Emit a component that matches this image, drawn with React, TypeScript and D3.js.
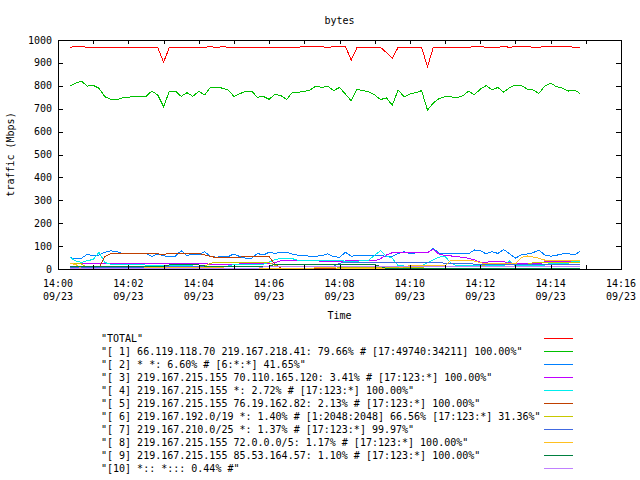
import React from 'react';
import * as d3 from 'd3';

// seconds after 14:00:00 on 09/23, one sample every 10 s
const sampleTimes = d3.range(88).map((i) => 20 + 10 * i);

const xTickSeconds = [0, 60, 120, 180, 240, 300, 360, 420, 480, 540, 600, 660, 720, 780, 840, 900, 960];
const xTickLabels = ['14:00', '14:02', '14:04', '14:06', '14:08', '14:10', '14:12', '14:14', '14:16'];
const xTickDate = '09/23';
const yTicks = [0, 100, 200, 300, 400, 500, 600, 700, 800, 900, 1000];

const seriesNames = [
  '"TOTAL"',
  '"[ 1] 66.119.118.70 219.167.218.41: 79.66% # [17:49740:34211] 100.00%"',
  '"[ 2] * *: 6.60% # [6:*:*] 41.65%"',
  '"[ 3] 219.167.215.155 70.110.165.120: 3.41% # [17:123:*] 100.00%"',
  '"[ 4] 219.167.215.155 *: 2.72% # [17:123:*] 100.00%"',
  '"[ 5] 219.167.215.155 76.19.162.82: 2.13% # [17:123:*] 100.00%"',
  '"[ 6] 219.167.192.0/19 *: 1.40% # [1:2048:2048] 66.56% [17:123:*] 31.36%"',
  '"[ 7] 219.167.210.0/25 *: 1.37% # [17:123:*] 99.97%"',
  '"[ 8] 219.167.215.155 72.0.0.0/5: 1.17% # [17:123:*] 100.00%"',
  '"[ 9] 219.167.215.155 85.53.164.57: 1.10% # [17:123:*] 100.00%"',
  '"[10] *:: *::: 0.44% #"',
];

const seriesColors = ['#ff0000', '#00c000', '#0080ff', '#c000ff', '#00eeee', '#c04000', '#c8c800', '#4169e1', '#ffc020', '#008040', '#c080ff'];

const total = [
  968, 972, 972, 968, 968, 968, 968, 968, 968, 968,
  968, 968, 968, 968, 968, 968, 903, 968, 968, 968,
  968, 968, 968, 968, 972, 966, 972, 968, 968, 968,
  968, 968, 968, 968, 968, 968, 968, 968, 968, 968,
  972, 972, 972, 972, 966, 972, 972, 972, 913, 968,
  968, 968, 968, 968, 945, 920, 968, 968, 968, 968,
  968, 883, 968, 968, 968, 968, 968, 968, 968, 972,
  972, 968, 968, 968, 972, 968, 972, 972, 972, 968,
  968, 972, 972, 972, 972, 972, 968, 968,
];
const s1 = [
  799, 811, 820, 799, 802, 789, 752, 741, 738, 748,
  750, 754, 754, 754, 777, 760, 709, 777, 777, 754,
  770, 754, 776, 760, 793, 793, 790, 782, 754, 765,
  777, 777, 750, 754, 741, 763, 757, 741, 772, 772,
  775, 782, 799, 792, 799, 779, 793, 764, 735, 785,
  779, 773, 760, 740, 747, 715, 782, 752, 764, 770,
  779, 694, 725, 745, 752, 752, 748, 756, 776, 761,
  785, 801, 782, 793, 772, 792, 803, 801, 786, 782,
  767, 799, 812, 796, 790, 777, 782, 767,
];
const s2 = [
  51, 44, 47, 64, 58, 61, 73, 79, 76, 68,
  68, 68, 68, 68, 54, 66, 58, 54, 56, 80,
  58, 66, 61, 76, 54, 52, 53, 54, 66, 54,
  47, 47, 68, 61, 73, 68, 73, 73, 64, 60,
  58, 56, 56, 58, 66, 54, 51, 73, 56, 58,
  60, 61, 61, 61, 54, 56, 68, 76, 68, 70,
  71, 71, 90, 68, 66, 66, 66, 66, 66, 83,
  80, 66, 76, 68, 85, 66, 48, 61, 66, 71,
  83, 61, 56, 60, 66, 68, 61, 76,
];
const s3 = [
  23, 23, 23, 23, 23, 23, 23, 23, 23, 25,
  25, 25, 25, 25, 25, 25, 25, 25, 25, 25,
  25, 25, 25, 24, 20, 20, 20, 20, 20, 22,
  22, 22, 22, 22, 22, 28, 36, 39, 39, 39,
  39, 39, 39, 31, 31, 31, 31, 35, 35, 35,
  35, 35, 35, 45, 61, 71, 71, 71, 71, 71,
  71, 72, 86, 64, 60, 57, 54, 51, 47, 40,
  29, 30, 32, 32, 32, 27, 24, 22, 22, 22,
  22, 31, 31, 31, 31, 31, 31, 31,
];
const s4 = [
  51, 35, 29, 36, 42, 73, 28, 21, 21, 21,
  21, 21, 21, 17, 17, 17, 17, 17, 17, 17,
  17, 13, 13, 13, 13, 13, 13, 13, 20, 20,
  20, 20, 20, 20, 30, 42, 45, 45, 45, 37,
  37, 37, 37, 39, 39, 39, 39, 33, 33, 33,
  39, 39, 60, 80, 56, 47, 14, 13, 13, 13,
  14, 27, 40, 52, 56, 25, 14, 14, 14, 14,
  14, 14, 14, 14, 14, 35, 13, 17, 17, 17,
  17, 17, 25, 25, 25, 25, 35, 32,
];
const s5 = [
  3, 3, 3, 3, 3, 3, 55, 68, 68, 68,
  68, 68, 68, 68, 68, 66, 64, 68, 68, 68,
  68, 68, 68, 62, 55, 50, 50, 49, 49, 52,
  54, 54, 54, 54, 54, 20, 3, 3, 3, 3,
  3, 3, 3, 3, 3, 3, 3, 3, 3, 3,
  3, 3, 3, 3, 3, 3, 3, 3, 3, 3,
  3, 3, 3, 3, 3, 3, 3, 3, 3, 3,
  3, 3, 3, 3, 3, 3, 3, 3, 3, 3,
  3, 3, 3, 3, 3, 3, 3, 3,
];
const s6 = [
  22, 22, 22, 8, 8, 8, 8, 8, 8, 8,
  8, 8, 8, 8, 8, 13, 13, 13, 13, 13,
  13, 12, 12, 12, 25, 29, 29, 29, 29, 29,
  29, 29, 29, 29, 29, 15, 10, 10, 10, 10,
  10, 10, 10, 10, 10, 10, 8, 8, 8, 8,
  8, 8, 8, 8, 8, 8, 8, 8, 8, 8,
  8, 10, 10, 10, 10, 10, 10, 10, 10, 10,
  10, 20, 20, 20, 20, 20, 20, 20, 20, 28,
  28, 28, 28, 28, 28, 28, 28, 28,
];
const s7 = [
  6, 6, 6, 6, 6, 6, 6, 6, 6, 6,
  6, 6, 6, 9, 9, 9, 9, 9, 9, 9,
  9, 9, 9, 9, 9, 9, 9, 9, 9, 9,
  9, 9, 9, 9, 9, 12, 12, 12, 12, 12,
  12, 12, 12, 12, 12, 12, 25, 29, 29, 29,
  29, 29, 29, 29, 29, 29, 29, 29, 29, 29,
  29, 29, 29, 29, 25, 25, 25, 25, 25, 21,
  21, 21, 21, 21, 21, 21, 21, 21, 21, 21,
  21, 21, 21, 21, 21, 21, 21, 21,
];
const s8 = [
  25, 20, 3, 3, 3, 3, 3, 3, 3, 3,
  3, 3, 3, 5, 5, 5, 5, 5, 5, 5,
  5, 5, 5, 5, 5, 5, 5, 3, 3, 3,
  3, 3, 3, 3, 3, 3, 3, 3, 3, 3,
  3, 3, 5, 5, 5, 5, 3, 3, 3, 3,
  3, 3, 3, 3, 3, 3, 3, 10, 14, 14,
  14, 14, 14, 14, 14, 38, 35, 35, 35, 35,
  28, 22, 22, 22, 22, 22, 22, 50, 57, 52,
  47, 39, 39, 39, 39, 39, 39, 39,
];
const s9 = [
  13, 13, 13, 13, 13, 13, 13, 13, 13, 13,
  13, 13, 13, 13, 13, 13, 13, 18, 18, 18,
  18, 18, 18, 13, 13, 13, 13, 13, 13, 13,
  13, 13, 13, 13, 13, 20, 20, 20, 20, 20,
  20, 20, 21, 21, 21, 21, 21, 21, 21, 21,
  21, 21, 20, 10, 3, 3, 3, 3, 3, 3,
  3, 3, 3, 3, 3, 3, 3, 3, 3, 3,
  3, 3, 3, 3, 3, 3, 3, 3, 3, 3,
  3, 3, 3, 3, 3, 3, 3, 3,
];
const s10 = [
  3, 3, 3, 3, 3, 3, 3, 3, 3, 3,
  3, 3, 3, 3, 3, 3, 3, 3, 3, 3,
  3, 3, 3, 3, 3, 3, 3, 3, 3, 3,
  3, 3, 3, 9, 9, 9, 9, 9, 9, 9,
  9, 9, 9, 9, 9, 9, 9, 9, 9, 9,
  9, 9, 9, 9, 9, 9, 9, 9, 9, 9,
  9, 9, 9, 9, 9, 9, 9, 9, 9, 9,
  9, 9, 9, 9, 9, 9, 9, 9, 9, 9,
  9, 9, 9, 9, 9, 9, 9, 9,
];

const seriesValues = [total, s1, s2, s3, s4, s5, s6, s7, s8, s9, s10];

const W = 640;
const H = 480;
const L = 58;
const R = 621;
const T = 40;
const B = 269;
const FONT = '"DejaVu Sans Mono", monospace';

export default function App() {
  const x = d3.scaleLinear().domain([0, 960]).range([L, R]);
  const y = d3.scaleLinear().domain([0, 1000]).range([B, T]);
  const line = d3
    .line<number>()
    .x((_, i) => x(sampleTimes[i]))
    .y((d) => y(d));

  const px = (v: number) => Math.round(v) + 0.5;

  return (
    <svg
      width={W}
      height={H}
      viewBox={`0 0 ${W} ${H}`}
      style={{ position: 'absolute', left: 0, top: 0, background: '#fff' }}
      fontFamily={FONT}
      fontSize={10}
    >
      <rect x={0} y={0} width={W} height={H} fill="#fff" />
      {/* title */}
      <text x={(L + R) / 2} y={20} textAnchor="middle" dominantBaseline="central" fill="#000">
        bytes
      </text>
      {/* series */}
      <g fill="none" strokeWidth={1} shapeRendering="crispEdges">
        {seriesValues.map((vals, k) => (
          <path key={k} d={line(vals) || ''} stroke={seriesColors[k]} />
        ))}
      </g>
      {/* axes ticks */}
      <g stroke="#000" strokeWidth={1} shapeRendering="crispEdges">
        {yTicks.map((v) => (
          <g key={'y' + v}>
            <line x1={L} x2={L + 5} y1={px(y(v))} y2={px(y(v))} />
            <line x1={R - 5} x2={R} y1={px(y(v))} y2={px(y(v))} />
          </g>
        ))}
        {xTickSeconds.map((s) => (
          <g key={'x' + s}>
            <line x1={px(x(s))} x2={px(x(s))} y1={B} y2={B - 4} />
            <line x1={px(x(s))} x2={px(x(s))} y1={T} y2={T + 4} />
          </g>
        ))}
        <rect x={L + 0.5} y={T + 0.5} width={R - L} height={B - T} fill="none" />
      </g>
      {/* y tick labels */}
      <g fill="#000" textAnchor="end">
        {yTicks.map((v) => (
          <text key={'yl' + v} x={52} y={y(v)} dominantBaseline="central">
            {v}
          </text>
        ))}
      </g>
      {/* x tick labels */}
      <g fill="#000" textAnchor="middle">
        {xTickLabels.map((lab, i) => (
          <g key={'xl' + lab}>
            <text x={x(i * 120)} y={283} dominantBaseline="central">
              {lab}
            </text>
            <text x={x(i * 120)} y={296} dominantBaseline="central">
              {xTickDate}
            </text>
          </g>
        ))}
      </g>
      {/* axis labels */}
      <text x={(L + R) / 2} y={315} textAnchor="middle" dominantBaseline="central" fill="#000">
        Time
      </text>
      <text
        transform={`translate(10, ${(T + B) / 2}) rotate(-90)`}
        textAnchor="middle"
        dominantBaseline="central"
        fill="#000"
      >
        traffic (Mbps)
      </text>
      {/* legend */}
      <g>
        {seriesNames.map((name, k) => (
          <g key={'lg' + k}>
            <text x={101} y={338 + 13 * k} dominantBaseline="central" fill="#000" style={{ whiteSpace: 'pre' }}>
              {name}
            </text>
            <line
              x1={544}
              x2={573}
              y1={338.5 + 13 * k}
              y2={338.5 + 13 * k}
              stroke={seriesColors[k]}
              strokeWidth={1}
              shapeRendering="crispEdges"
            />
          </g>
        ))}
      </g>
    </svg>
  );
}
